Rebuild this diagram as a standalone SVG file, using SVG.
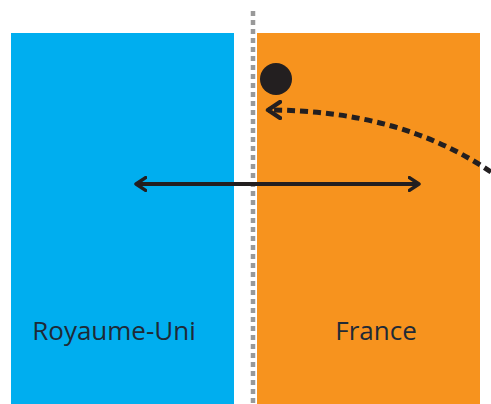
<svg xmlns="http://www.w3.org/2000/svg" width="491" height="404" viewBox="0 0 491 404">
<style>
.lbl{font-family:"Open Sans","Noto Sans",sans-serif;font-size:26px;fill:#1f2a36;text-anchor:middle}
.ln{fill:none;stroke:#231f20;stroke-linecap:butt}
</style>
<defs>
<marker id="chev" viewBox="0 0 10 10" refX="7" refY="5" markerWidth="4" markerHeight="4" orient="auto-start-reverse" markerUnits="strokeWidth">
<path d="M1,1 L7,5 L1,9" fill="none" stroke="#231f20" stroke-width="2.2" stroke-linecap="round" stroke-linejoin="round"/>
</marker>
</defs>
<rect width="491" height="404" fill="#fff"/>
<g id="uk"><rect x="11" y="33" width="223" height="371" fill="#00aeef"/><text class="lbl" x="114" y="340">Royaume-Uni</text></g>
<g id="fr"><rect x="257" y="33" width="223" height="371" fill="#f7931e"/><text class="lbl" x="376" y="340">France</text></g>
<g id="border"><line x1="253" y1="11" x2="253" y2="404" stroke="#999" stroke-width="4.5" stroke-dasharray="5,4"/></g>
<g id="dot"><circle cx="276" cy="79" r="16" fill="#231f20"/></g>
<g id="connectors">
<path class="ln" d="M136,184 L419,184" stroke-width="4" marker-start="url(#chev)" marker-end="url(#chev)"/>
<path class="ln" d="M491,172 Q400,110 268,110" stroke-width="5" stroke-dasharray="8,5" marker-end="url(#chev)"/>
</g>
</svg>
